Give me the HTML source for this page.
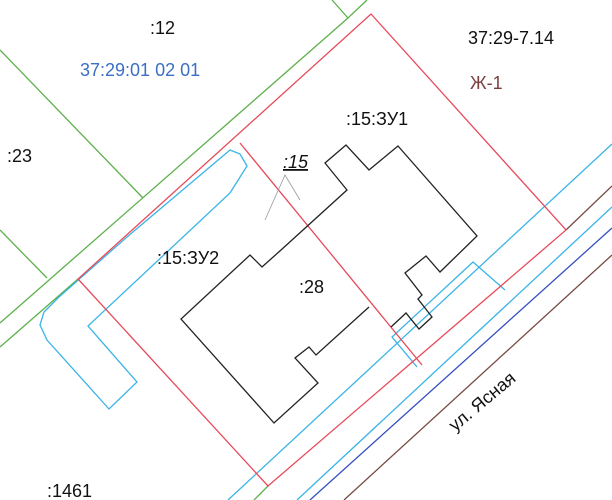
<!DOCTYPE html>
<html><head><meta charset="utf-8"><style>
html,body{margin:0;padding:0;background:#fff;}
svg{display:block;}
text{font-family:"Liberation Sans",sans-serif;font-size:18px;fill:#111;}
</style></head><body>
<svg width="612" height="500" viewBox="0 0 612 500" xmlns="http://www.w3.org/2000/svg">
<g fill="none" stroke-width="1.3">
<g stroke="#5cb04a">
<polyline points="332,0 348,18 367,0"/>
<line x1="348" y1="18" x2="0" y2="323"/>
<line x1="0" y1="347" x2="78" y2="279"/>
<line x1="0" y1="50" x2="143" y2="198"/>
<line x1="0" y1="230" x2="47" y2="278"/>
<line x1="268" y1="486" x2="254" y2="500"/>
</g>
<g stroke="#3ab4e8">
<line x1="228" y1="500" x2="612" y2="144"/>
<line x1="297" y1="500" x2="612" y2="207"/>
<polyline points="417,367 392,337 473,262 505,290"/>
<polygon points="230,150 240,154 247,166 230,193 88,326 137,382 109,409 47,340 40,325 44,312 59,297 127,237"/>
</g>
<line x1="310" y1="500" x2="612" y2="228" stroke="#3550c0"/>
<line x1="344" y1="500" x2="612" y2="255" stroke="#7a4a44"/>
<line x1="566" y1="230" x2="612" y2="186" stroke="#7a4a44"/>
<g stroke="#e84a5a">
<polygon points="371,14 566,230 268,486 78,279"/>
<line x1="240" y1="143" x2="422" y2="365"/>
</g>
<g stroke="#222">
<polyline points="391,327 406,313 419,329 432,317 418,299 422,295 405,273 426,256 440,272 477,236 398,146 369,170 346,145 325,163 347,190 281,250 262,267 250,255 181,319 274,423 318,383 295,358 309,347 316,355 369,307"/>
</g>
<g stroke="#999" stroke-width="0.8">
<polyline points="265,220 285,175 300,200"/>
</g>
</g>
<text x="150" y="34">:12</text>
<text x="80" y="76" style="fill:#3a6fc4">37:29:01 02 01</text>
<text x="468" y="44">37:29-7.14</text>
<text x="470" y="89" style="fill:#7a4040">Ж-1</text>
<text x="346" y="125">:15:ЗУ1</text>
<text x="283" y="168" style="font-style:italic;text-decoration:underline">:15</text>
<text x="7" y="162">:23</text>
<text x="157" y="264">:15:ЗУ2</text>
<text x="299" y="293">:28</text>
<text x="47" y="497">:1461</text>
<text x="0" y="0" transform="translate(455,432) rotate(-40)">ул. Ясная</text>
</svg>
</body></html>
